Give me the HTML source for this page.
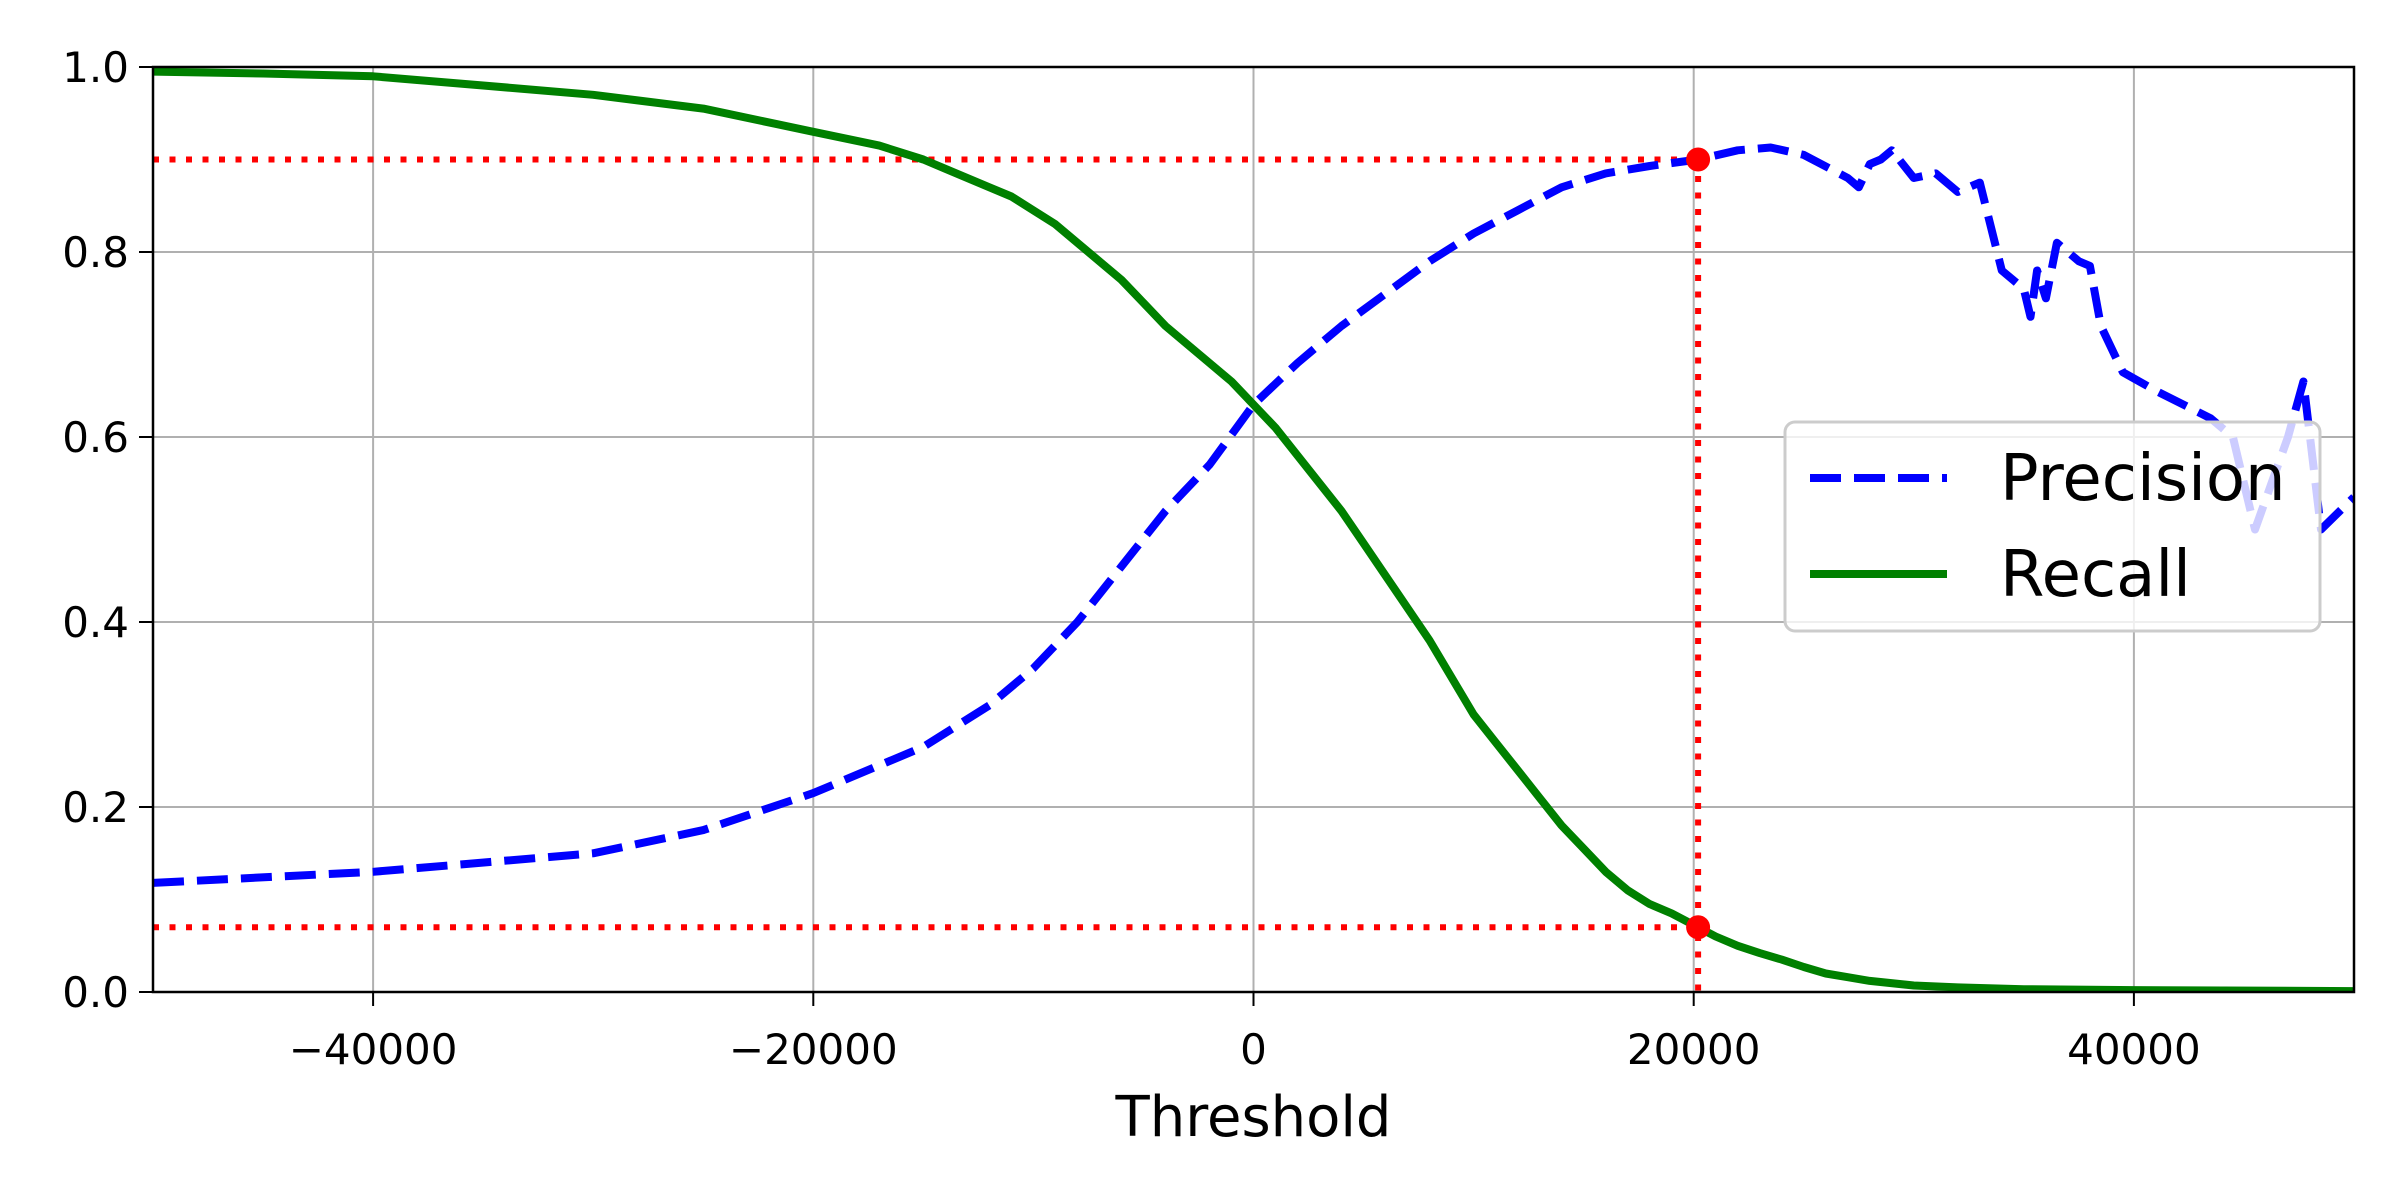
<!DOCTYPE html>
<html><head><meta charset="utf-8"><style>
html,body{margin:0;padding:0;background:#fff;}
svg{display:block;font-family:"DejaVu Sans","Liberation Sans",sans-serif;}
</style></head><body>
<svg id="chart" width="2400" height="1200" viewBox="0 0 2400 1200">
<g id="grid"></g><g id="series"></g><g id="axes"></g><g id="legend"></g>
</svg>
<script>
const precX=[-50000,-40000,-30000,-25000,-20000,-15000,-12000,-10000,-8000,-6000,-4000,-2000,0,2000,4000,6000,8000,10000,12000,14000,16000,18000,20200,22000,23500,25000,27000,27500,28000,28500,29000,30000,31000,32000,33000,34000,35000,35300,35600,36000,36500,37500,38000,38500,39500,41000,43500,44500,45500,47000,47700,48200,48500,50000];
const precY=[0.118,0.13,0.15,0.175,0.215,0.265,0.31,0.35,0.4,0.46,0.52,0.57,0.635,0.68,0.72,0.755,0.79,0.82,0.845,0.87,0.885,0.893,0.9,0.91,0.913,0.905,0.88,0.87,0.895,0.9,0.91,0.88,0.885,0.865,0.875,0.78,0.76,0.73,0.78,0.75,0.81,0.79,0.785,0.72,0.67,0.65,0.62,0.6,0.5,0.6,0.66,0.56,0.5,0.535];
const recX=[-50000,-45000,-40000,-35000,-30000,-25000,-20000,-17000,-15000,-14000,-12000,-11000,-10000,-9000,-8000,-7000,-6000,-5000,-4000,-3000,-2000,-1000,0,1000,2000,3000,4000,5000,6000,7000,8000,9000,10000,11000,12000,13000,14000,15000,16000,17000,18000,19000,20200,21000,22000,23000,24000,25000,26000,27000,28000,30000,32000,35000,40000,50000];
const recY=[0.995,0.993,0.99,0.98,0.97,0.955,0.93,0.915,0.9,0.89,0.87,0.86,0.845,0.83,0.81,0.79,0.77,0.745,0.72,0.7,0.68,0.66,0.635,0.61,0.58,0.55,0.52,0.485,0.45,0.415,0.38,0.34,0.3,0.27,0.24,0.21,0.18,0.155,0.13,0.11,0.095,0.085,0.07,0.06,0.05,0.042,0.035,0.027,0.02,0.016,0.012,0.007,0.005,0.003,0.002,0.001];
const xTicks=[-40000,-20000,0,20000,40000];
const xTickLabels=["\u221240000","\u221220000","0","20000","40000"];
const yTicks=[0,0.2,0.4,0.6,0.8,1.0];
const yTickLabels=["0.0","0.2","0.4","0.6","0.8","1.0"];
const thresholdPoint=[20200];
const markPrecision=[0.9];
const markRecall=[0.07];
const L=153,R=2354,T=67,B=992;
const xs=v=>L+(v+50000)/100000*(R-L);
const ys=v=>B-v*(B-T);
const NS="http://www.w3.org/2000/svg";
function mk(tag,attrs,parent){const e=document.createElementNS(NS,tag);for(const k in attrs)e.setAttribute(k,attrs[k]);parent.appendChild(e);return e;}
const grid=document.getElementById('grid'),ser=document.getElementById('series'),ax=document.getElementById('axes'),lg=document.getElementById('legend');
xTicks.forEach((t,i)=>{
 const g=mk('line',{x1:xs(t),x2:xs(t),y1:T,y2:B,stroke:'#b0b0b0','stroke-width':2},grid);
 
 
 const tk=mk('line',{x1:xs(t),x2:xs(t),y1:B,y2:B+14,stroke:'#000','stroke-width':2},ax);
 
 
 const tx=mk('text',{x:xs(t),y:B+72,'text-anchor':'middle','font-size':42},ax);tx.textContent=xTickLabels[i];
 
 
});
yTicks.forEach((t,i)=>{
 const g=mk('line',{x1:L,x2:R,y1:ys(t),y2:ys(t),stroke:'#b0b0b0','stroke-width':2},grid);
 
 
 const tk=mk('line',{x1:L-14,x2:L,y1:ys(t),y2:ys(t),stroke:'#000','stroke-width':2},ax);
 
 
 const tx=mk('text',{x:L-24,y:ys(t)+15,'text-anchor':'end','font-size':42},ax);tx.textContent=yTickLabels[i];
 
 
});
function pts(X,Y){return X.map((x,i)=>xs(x).toFixed(1)+','+ys(Y[i]).toFixed(1)).join(' ');}
const cp=mk('clipPath',{id:'clip'},ser);mk('rect',{x:L,y:T,width:R-L,height:B-T},cp);
const tp=thresholdPoint[0];
[[L,ys(markPrecision[0]),xs(tp),ys(markPrecision[0])],[L,ys(markRecall[0]),xs(tp),ys(markRecall[0])],[xs(tp),ys(markPrecision[0]),xs(tp),B]].forEach(a=>{
 const l=mk('line',{x1:a[0],y1:a[1],x2:a[2],y2:a[3],stroke:'#ff0000','stroke-width':6,'stroke-dasharray':'6 10.5'},ser);
 
 
});
const pl=mk('polyline',{points:pts(precX,precY),fill:'none',stroke:'#0000ff','stroke-width':8,'stroke-dasharray':'31 13','stroke-linejoin':'round','clip-path':'url(#clip)'},ser);


const rl=mk('polyline',{points:pts(recX,recY),fill:'none',stroke:'#008000','stroke-width':8,'stroke-linejoin':'round','clip-path':'url(#clip)'},ser);


[markPrecision[0],markRecall[0]].forEach(v=>{
 const c=mk('circle',{cx:xs(tp),cy:ys(v),r:12,fill:'#ff0000'},ser);
 
 
});
const fr=mk('rect',{x:L,y:T,width:R-L,height:B-T,fill:'none',stroke:'#000','stroke-width':2.5},ax);


const xl=mk('text',{x:(L+R)/2,y:1136,'text-anchor':'middle','font-size':56},ax);xl.textContent='Threshold';


const lb=mk('rect',{x:1785,y:422,width:535,height:209,rx:10,fill:'rgba(255,255,255,0.8)',stroke:'#cccccc','stroke-width':3},lg);


const l1=mk('line',{x1:1810,x2:1947,y1:478,y2:478,stroke:'#0000ff','stroke-width':8,'stroke-dasharray':'31 13'},lg);


const t1=mk('text',{x:2000,y:500,'font-size':64},lg);t1.textContent='Precision';


const l2=mk('line',{x1:1810,x2:1947,y1:574,y2:574,stroke:'#008000','stroke-width':8},lg);


const t2=mk('text',{x:2000,y:596,'font-size':64},lg);t2.textContent='Recall';


</script>
</body></html>
